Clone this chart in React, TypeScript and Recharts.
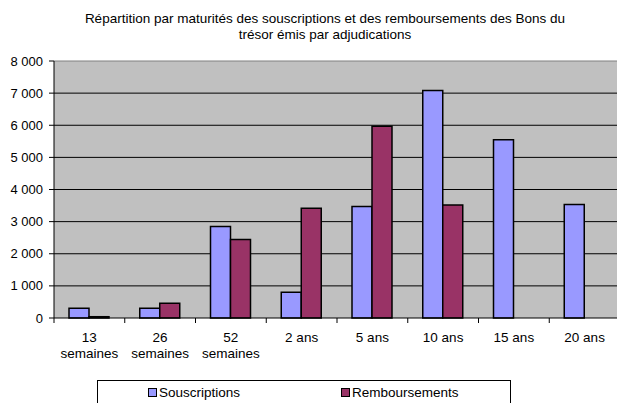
import { BarChart, Bar, XAxis, YAxis, CartesianGrid, Legend, ReferenceLine } from 'recharts'

const maturities = ['13 semaines', '26 semaines', '52 semaines', '2 ans', '5 ans', '10 ans', '15 ans', '20 ans']
const souscriptions = [300, 300, 2850, 800, 3470, 7080, 5550, 3530]
const remboursements: (number | null)[] = [40, 460, 2440, 3420, 5970, 3520, null, null]
const yTicks = [0, 1000, 2000, 3000, 4000, 5000, 6000, 7000, 8000]

const data = maturities.map((m, i) => ({
  maturite: m,
  souscriptions: souscriptions[i],
  remboursements: remboursements[i],
}))

const FONT = '"Liberation Sans", Arial, sans-serif'
const PLOT_LEFT = 54
const CHART_W = 620
const BAND = (CHART_W - PLOT_LEFT) / maturities.length

const fmt = (v: number) => (v === 0 ? '0' : `${Math.floor(v / 1000)} ${String(v % 1000).padStart(3, '0')}`)

const CategoryTick = ({ x, y, payload }: { x?: number; y?: number; payload?: { value: string } }) => {
  const parts = (payload?.value ?? '').split(' ')
  const lines = parts.length > 1 && parts[1] === 'semaines' ? parts : [payload?.value ?? '']
  const bx = (x ?? 0) - BAND / 2
  return (
    <g>
      <line x1={bx} y1={y} x2={bx} y2={(y ?? 0) + 5} stroke="#000" />
      {lines.map((l, i) => (
        <text key={i} x={x} y={(y ?? 0) + 24 + i * 16} textAnchor="middle" fill="#000" fontSize={13.5} fontFamily={FONT}>
          {l}
        </text>
      ))}
    </g>
  )
}

const LegendBox = () => (
  <div
    style={{
      width: 414,
      height: 30,
      border: '1px solid #000',
      boxSizing: 'border-box',
      background: '#fff',
      fontFamily: FONT,
      fontSize: 13.5,
      position: 'relative',
    }}
  >
    {[
      { label: 'Souscriptions', color: '#9999FF', left: 50 },
      { label: 'Remboursements', color: '#993366', left: 243 },
    ].map((it) => (
      <span key={it.label} style={{ position: 'absolute', left: it.left, top: 4, display: 'flex', alignItems: 'center' }}>
        <span style={{ display: 'inline-block', width: 7, height: 7, background: it.color, border: '1px solid #000', marginRight: 2 }} />
        {it.label}
      </span>
    ))}
  </div>
)

export default function App() {
  return (
    <div style={{ position: 'absolute', left: 0, top: 0, width: 617, height: 403, overflow: 'hidden', background: '#fff' }}>
      <div
        style={{
          position: 'absolute',
          left: 0,
          width: 650,
          top: 11,
          textAlign: 'center',
          fontFamily: FONT,
          fontSize: 13.5,
          lineHeight: '16px',
        }}
      >
        Répartition par maturités des souscriptions et des remboursements des Bons du
        <br />
        trésor émis par adjudications
      </div>
      <BarChart
        width={CHART_W}
        height={403}
        data={data}
        margin={{ top: 61, right: 0, left: 0, bottom: 45 }}
        barGap={0}
        barSize={20}
      >
        <CartesianGrid fill="#C0C0C0" stroke="#000" vertical={false} horizontalValues={[1000, 2000, 3000, 4000, 5000, 6000, 7000]} />
        <ReferenceLine y={8000} stroke="#808080" />
        <XAxis
          dataKey="maturite"
          height={40}
          interval={0}
          axisLine={{ stroke: '#000' }}
          tickLine={false}
          tickSize={0}
          tickMargin={0}
          tick={<CategoryTick />}
        />
        <YAxis
          width={PLOT_LEFT}
          domain={[0, 8000]}
          ticks={yTicks}
          interval={0}
          tickFormatter={fmt}
          axisLine={{ stroke: '#000' }}
          tickLine={{ stroke: '#000' }}
          tickSize={5}
          tickMargin={6}
          tick={{ fill: '#000', fontSize: 13, fontFamily: FONT }}
        />
        <Legend
          layout="horizontal"
          verticalAlign="middle"
          align="center"
          wrapperStyle={{ left: 97, top: 380, width: 414 }}
          content={<LegendBox />}
        />
        <Bar dataKey="souscriptions" name="Souscriptions" fill="#9999FF" stroke="#000" strokeWidth={1.5} isAnimationActive={false} />
        <Bar dataKey="remboursements" name="Remboursements" fill="#993366" stroke="#000" strokeWidth={1.5} isAnimationActive={false} />
      </BarChart>
    </div>
  )
}
